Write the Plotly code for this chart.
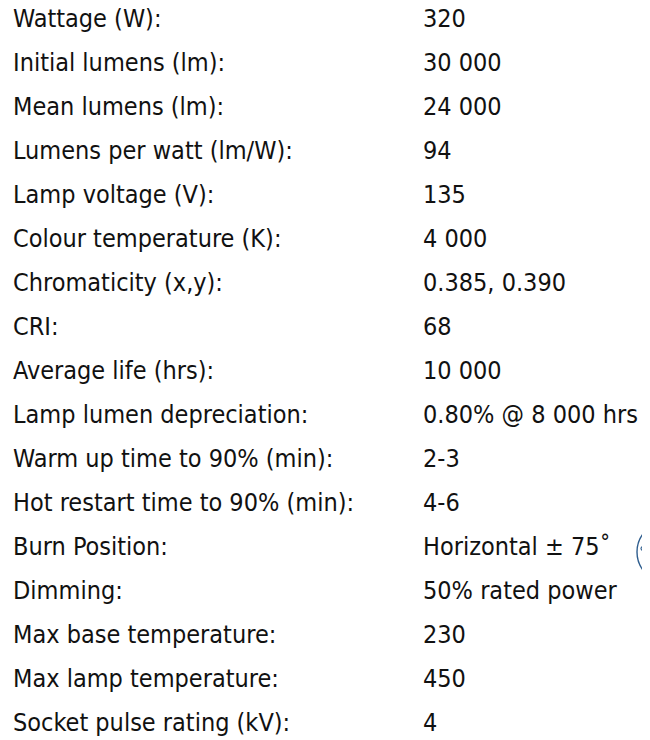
import plotly.graph_objects as go

labels = [
    "Wattage (W):", "Initial lumens (lm):", "Mean lumens (lm):", "Lumens per watt (lm/W):",
    "Lamp voltage (V):", "Colour temperature (K):", "Chromaticity (x,y):", "CRI:",
    "Average life (hrs):", "Lamp lumen depreciation:", "Warm up time to 90% (min):",
    "Hot restart time to 90% (min):", "Burn Position:", "Dimming:",
    "Max base temperature:", "Max lamp temperature:", "Socket pulse rating (kV):",
]
values = [
    "320", "30 000", "24 000", "94", "135", "4 000", "0.385, 0.390", "68", "10 000",
    "0.80% @ 8 000 hrs", "2-3", "4-6", "Horizontal \u00b1 75\u02da", "50% rated power",
    "230", "450", "4",
]
rows = list(range(len(labels)))

# page body has an 8px margin; figure sized to fit the 650x740 window
W, H = 642, 732
x_label_px, x_value_px = 5, 415
y0_px, dy_px = 13, 44
upx = x_value_px - x_label_px
xa = -x_label_px / upx
xb = xa + W / upx
ya = -y0_px / dy_px
yb = ya + H / dy_px

font = dict(family="DejaVu Sans Condensed, DejaVu Sans", size=25, color="#111111")

fig = go.Figure()
fig.add_trace(go.Scatter(x=[0] * len(labels), y=rows, text=labels, mode="text",
                         textposition="middle right", textfont=font, hoverinfo="skip",
                         cliponaxis=False))
fig.add_trace(go.Scatter(x=[1] * len(values), y=rows, text=values, mode="text",
                         textposition="middle right", textfont=font, hoverinfo="skip",
                         cliponaxis=False))

burn_row = labels.index("Burn Position:")
icon_color = "#2e5d8e"
# lamp icon, mostly beyond the right edge of the page
cx = xa + 659 / upx
r = 30 / upx
cy = burn_row + 3 / dy_px
ry = 30 / dy_px
fig.add_shape(type="circle", xref="x", yref="y", x0=cx - r, x1=cx + r,
              y0=cy - ry, y1=cy + ry, line=dict(color=icon_color, width=1.4))
fig.add_shape(type="circle", xref="x", yref="y", x0=xa + 633 / upx, x1=xa + 672 / upx,
              y0=burn_row - 6 / dy_px, y1=burn_row + 5 / dy_px,
              line=dict(color=icon_color, width=1.2))

fig.update_layout(
    width=W, height=H, margin=dict(l=0, r=0, t=0, b=0),
    paper_bgcolor="white", plot_bgcolor="white", showlegend=False,
    xaxis=dict(range=[xa, xb], visible=False, fixedrange=True),
    yaxis=dict(range=[yb, ya], visible=False, fixedrange=True),
)
fig.write_html("out.html")
